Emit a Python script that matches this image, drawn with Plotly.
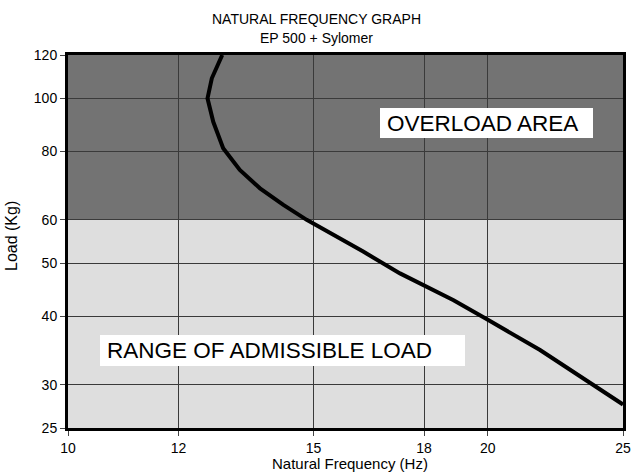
import math
import plotly.graph_objects as go

# Data
freq_hz = [12.90, 12.68, 12.59, 12.71, 12.92, 13.28, 13.73, 14.27, 14.83,
           15.67, 16.28, 17.30, 18.90, 20.00, 21.80, 25.00]
load_kg = [120.0, 108.8, 100.0, 90.6, 81.1, 74.0, 68.5, 63.9, 60.0,
           55.5, 52.5, 47.9, 42.8, 39.4, 34.7, 27.6]

x_ticks = [10, 12, 15, 18, 20, 25]
y_ticks = [25, 30, 40, 50, 60, 80, 100, 120]

zone_bounds = [25, 60, 120]          # admissible / overload boundaries
zone_colors = ["#dedede", "#737373"]
zone_labels = ["RANGE OF ADMISSIBLE LOAD", "OVERLOAD AREA"]

title_lines = ["NATURAL FREQUENCY GRAPH", "EP 500 + Sylomer"]
x_title = "Natural Frequency (Hz)"
y_title = "Load (Kg)"

FONT = "Liberation Sans, Arial, sans-serif"
L, R, T, B = 68, 9, 55, 44
W, H = 632, 472
PW, PH = W - L - R, H - T - B

fig = go.Figure()
fig.add_trace(go.Scatter(x=freq_hz, y=load_kg, mode="lines",
                         line=dict(color="black", width=4),
                         hoverinfo="skip", showlegend=False))

# background zones
for i in range(2):
    fig.add_shape(type="rect", xref="paper", yref="y",
                  x0=0, x1=1, y0=zone_bounds[i], y1=zone_bounds[i + 1],
                  fillcolor=zone_colors[i], line_width=0, layer="below")

def px(xp):
    return (xp - L) / PW

def py(yp):
    return (H - B - yp) / PH

# label boxes
boxes = [(100, 465, 335, 366), (380, 593, 108, 138)]
for (bx0, bx1, by0, by1), lab in zip(boxes, zone_labels):
    fig.add_shape(type="rect", xref="paper", yref="paper",
                  x0=px(bx0), x1=px(bx1), y0=py(by1), y1=py(by0),
                  fillcolor="white", line_width=0, layer="above")
    fig.add_annotation(xref="paper", yref="paper",
                       x=px(bx0 + 5), y=py((by0 + by1) / 2),
                       xanchor="left", yanchor="middle", showarrow=False,
                       text=lab, font=dict(family=FONT, size=22.5, color="black"))

# title lines
for txt, yc in zip(title_lines, [18.5, 37.5]):
    fig.add_annotation(xref="paper", yref="paper", x=px(W / 2), y=py(yc),
                       xanchor="center", yanchor="middle", showarrow=False,
                       text=txt, font=dict(family=FONT, size=14, color="black"))

# axis titles
fig.add_annotation(xref="paper", yref="paper", x=px(350), y=py(463),
                   xanchor="center", yanchor="middle", showarrow=False,
                   text=x_title, font=dict(family=FONT, size=15, color="black"))
fig.add_annotation(xref="paper", yref="paper", x=px(11), y=py(236),
                   xanchor="center", yanchor="middle", showarrow=False,
                   textangle=-90,
                   text=y_title, font=dict(family=FONT, size=16, color="black"))

fig.update_layout(
    width=W, height=H,
    margin=dict(l=L, r=R, t=T, b=B, autoexpand=False),
    paper_bgcolor="white", plot_bgcolor="white",
    font=dict(family=FONT, size=14, color="black"),
    showlegend=False,
)
common = dict(ticks="outside", ticklen=5, tickcolor="#444",
              showgrid=True, gridcolor="#3a3a3a", gridwidth=1,
              showline=True, linecolor="black", linewidth=3, mirror=True,
              zeroline=False, automargin=False,
              tickfont=dict(family=FONT, size=14, color="black"))
fig.update_xaxes(type="log", range=[math.log10(10), math.log10(25)],
                 tickvals=x_ticks, ticktext=[str(v) for v in x_ticks], **common)
fig.update_yaxes(type="log", range=[math.log10(25), math.log10(120)],
                 tickvals=y_ticks, ticktext=[str(v) for v in y_ticks], **common)

fig.write_html("out.html",
               config={"displayModeBar": False},
               post_script="document.body.style.margin='0';"
                           "document.body.style.overflow='hidden';")
